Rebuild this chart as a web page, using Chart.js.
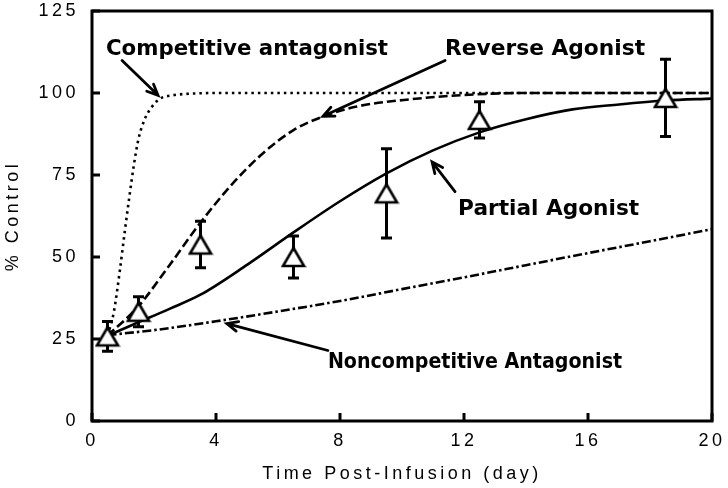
<!DOCTYPE html>
<html><head><meta charset="utf-8">
<script src="https://cdn.jsdelivr.net/npm/chart.js@4/dist/chart.umd.min.js"></script>
<style>html,body{margin:0;padding:0;background:#fff;}</style>
</head><body>
<canvas id="c" width="728" height="488"></canvas>
<script>
// ---- data ----
const obsDays = [0.5, 1.5, 3.5, 6.5, 9.5, 12.5, 18.5];
const obsMean = [25.8, 33.3, 53.8, 50.0, 69.4, 91.8, 98.5];
const obsErr  = [4.5, 4.6, 7.1, 6.4, 13.6, 5.5, 11.8];

const compX = [0.5, 0.7, 0.9, 1.06, 1.2, 1.35, 1.5, 1.7, 1.95, 2.2, 2.6, 3.2, 4, 20];
const compY = [26, 33, 46, 58, 68, 78, 86, 92, 96, 98.3, 99.3, 99.8, 100, 100];

const revX = [0.5, 1.5, 2.5, 3.5, 4.5, 5.5, 6.5, 7.5, 8.5, 10.3, 12.4, 14, 20];
const revY = [26, 35, 47.5, 60.5, 72, 81.5, 88.7, 93, 95.8, 98.1, 99.6, 100, 100];

const partX = [0.5, 1.5, 2.5, 3.5, 5, 6.5, 8, 9.5, 11, 12.5, 14, 15.5, 17, 18.5, 20];
const partY = [26, 30.1, 34.2, 38.5, 47.6, 57.5, 67, 75.5, 82.5, 88, 92, 95, 96.5, 97.7, 98.3];

const nonX = [0.5, 2, 4, 6, 8, 10, 12, 14, 16, 18, 20];
const nonY = [26.2, 27.7, 30.4, 33.4, 36.6, 40.2, 43.8, 47.5, 51.2, 54.8, 58.5];

const xTickStep = 4;
const yTickStep = 25;

// annotations (in data units)
const noteText = ['Competitive antagonist', 'Reverse Agonist', 'Partial Agonist', 'Noncompetitive Antagonist'];
const noteX0 = [0.45, 11.39, 11.81, 7.61];
const noteX1 = [9.55, 17.84, 17.65, 17.1];
const noteY  = [111.6, 111.6, 62.8, 16.2];
const arrowFrom = [[0.97, 109.9], [11.39, 109.9], [11.71, 69.9], [7.61, 21.5]];
const arrowTo   = [[2.13, 99.3], [7.45, 92.9], [10.97, 79.0], [4.35, 29.7]];

// ---- helpers ----
const pts = (xs, ys) => xs.map((x, i) => ({x, y: ys[i]}));
function makeTri() {
  const cv = document.createElement('canvas');
  cv.width = 26; cv.height = 24;
  const g = cv.getContext('2d');
  g.lineWidth = 2.6; g.strokeStyle = '#000'; g.fillStyle = '#fff'; g.lineJoin = 'miter';
  g.beginPath(); g.moveTo(13, 3); g.lineTo(23.5, 21); g.lineTo(2.5, 21); g.closePath();
  g.fill(); g.stroke();
  return cv;
}
const tri = makeTri();
const FONT = '"Liberation Sans", Arial, sans-serif';
const SPACING = '3.5px';

const spacingPlugin = {
  id: 'spacing',
  beforeLayout(c) { c.ctx.letterSpacing = SPACING; },
  beforeDraw(c) { c.ctx.letterSpacing = SPACING; }
};

const errPlugin = {
  id: 'errbars',
  beforeDatasetsDraw(c) {
    const ctx = c.ctx, xs = c.scales.x, ys = c.scales.y;
    ctx.save();
    ctx.strokeStyle = '#000'; ctx.lineWidth = 3; ctx.lineCap = 'butt';
    for (let i = 0; i < obsDays.length; i++) {
      const px = xs.getPixelForValue(obsDays[i]);
      const hi = ys.getPixelForValue(obsMean[i] + obsErr[i]);
      const lo = ys.getPixelForValue(obsMean[i] - obsErr[i]);
      ctx.beginPath();
      ctx.moveTo(px, hi); ctx.lineTo(px, lo);
      ctx.moveTo(px - 5.5, hi); ctx.lineTo(px + 5.5, hi);
      ctx.moveTo(px - 5.5, lo); ctx.lineTo(px + 5.5, lo);
      ctx.stroke();
    }
    ctx.restore();
  }
};

const framePlugin = {
  id: 'frame',
  afterDraw(c) {
    const ctx = c.ctx, a = c.chartArea, xs = c.scales.x, ys = c.scales.y;
    ctx.save();
    ctx.strokeStyle = '#000'; ctx.lineWidth = 3;
    ctx.strokeRect(a.left, a.top, a.right - a.left, a.bottom - a.top);
    ctx.beginPath();
    xs.ticks.forEach(t => {
      const p = xs.getPixelForValue(t.value);
      ctx.moveTo(p, a.bottom); ctx.lineTo(p, a.bottom - 8);
    });
    ys.ticks.forEach(t => {
      const p = ys.getPixelForValue(t.value);
      ctx.moveTo(a.left, p); ctx.lineTo(a.left + 8, p);
    });
    ctx.stroke();
    // annotations
    ctx.letterSpacing = '0px';
    ctx.fillStyle = '#000';
    ctx.font = 'bold 22px "DejaVu Sans", sans-serif';
    ctx.textBaseline = 'alphabetic'; ctx.textAlign = 'left';
    for (let i = 0; i < noteText.length; i++) {
      const x0 = xs.getPixelForValue(noteX0[i]), x1 = xs.getPixelForValue(noteX1[i]);
      const y = ys.getPixelForValue(noteY[i]);
      const w = ctx.measureText(noteText[i]).width;
      ctx.save();
      ctx.translate(x0, y); ctx.scale((x1 - x0) / w, 1);
      ctx.fillText(noteText[i], 0, 0);
      ctx.restore();
    }
    ctx.lineWidth = 2.8; ctx.lineCap = 'round'; ctx.lineJoin = 'miter';
    for (let i = 0; i < arrowFrom.length; i++) {
      const sx = xs.getPixelForValue(arrowFrom[i][0]), sy = ys.getPixelForValue(arrowFrom[i][1]);
      const tx = xs.getPixelForValue(arrowTo[i][0]), ty = ys.getPixelForValue(arrowTo[i][1]);
      const ang = Math.atan2(sy - ty, sx - tx);
      const L = 12, da = 0.42;
      ctx.beginPath();
      ctx.moveTo(sx, sy); ctx.lineTo(tx, ty);
      ctx.moveTo(tx + L * Math.cos(ang + da), ty + L * Math.sin(ang + da));
      ctx.lineTo(tx, ty);
      ctx.lineTo(tx + L * Math.cos(ang - da), ty + L * Math.sin(ang - da));
      ctx.stroke();
    }
    ctx.restore();
  }
};

const lineDs = (xs, ys, dash) => ({
  data: pts(xs, ys), showLine: true, pointRadius: 0, borderColor: '#000', borderWidth: 2.6,
  borderDash: dash, cubicInterpolationMode: 'monotone', fill: false, borderCapStyle: 'butt'
});

new Chart(document.getElementById('c'), {
  type: 'scatter',
  data: {
    datasets: [
      { data: pts(obsDays, obsMean), pointStyle: tri, pointRadius: 10, showLine: false,
        borderColor: '#000', backgroundColor: '#fff' },
      lineDs(compX, compY, [2.5, 4]),
      lineDs(revX, revY, [9, 4]),
      lineDs(partX, partY, []),
      lineDs(nonX, nonY, [9, 3, 2.5, 3])
    ]
  },
  options: {
    responsive: false, animation: false, devicePixelRatio: 1,
    layout: { padding: { top: 8, right: 16, left: 0, bottom: 0 } },
    plugins: { legend: { display: false }, tooltip: { enabled: false } },
    scales: {
      x: {
        type: 'linear', min: 0, max: 20,
        ticks: { stepSize: xTickStep, padding: 9, color: '#000', font: { family: FONT, size: 18 } },
        grid: { display: false, drawTicks: false }, border: { display: false },
        title: { display: true, text: 'Time Post-Infusion (day)', color: '#000',
                 font: { family: FONT, size: 18 }, padding: { top: 0, bottom: 3 } },
        afterFit(s) { s.height = 67; s.paddingLeft = 0; s.paddingRight = 0; }
      },
      y: {
        type: 'linear', min: 0, max: 125,
        ticks: { stepSize: yTickStep, padding: 13, color: '#000', font: { family: FONT, size: 18 } },
        grid: { display: false, drawTicks: false }, border: { display: false },
        title: { display: true, text: '% Control', color: '#000',
                 font: { family: FONT, size: 18 }, padding: { top: 2, bottom: 0 } },
        afterFit(s) { s.width = 92; s.paddingTop = 0; s.paddingBottom = 0; }
      }
    }
  },
  plugins: [spacingPlugin, errPlugin, framePlugin]
});
</script>
</body></html>
